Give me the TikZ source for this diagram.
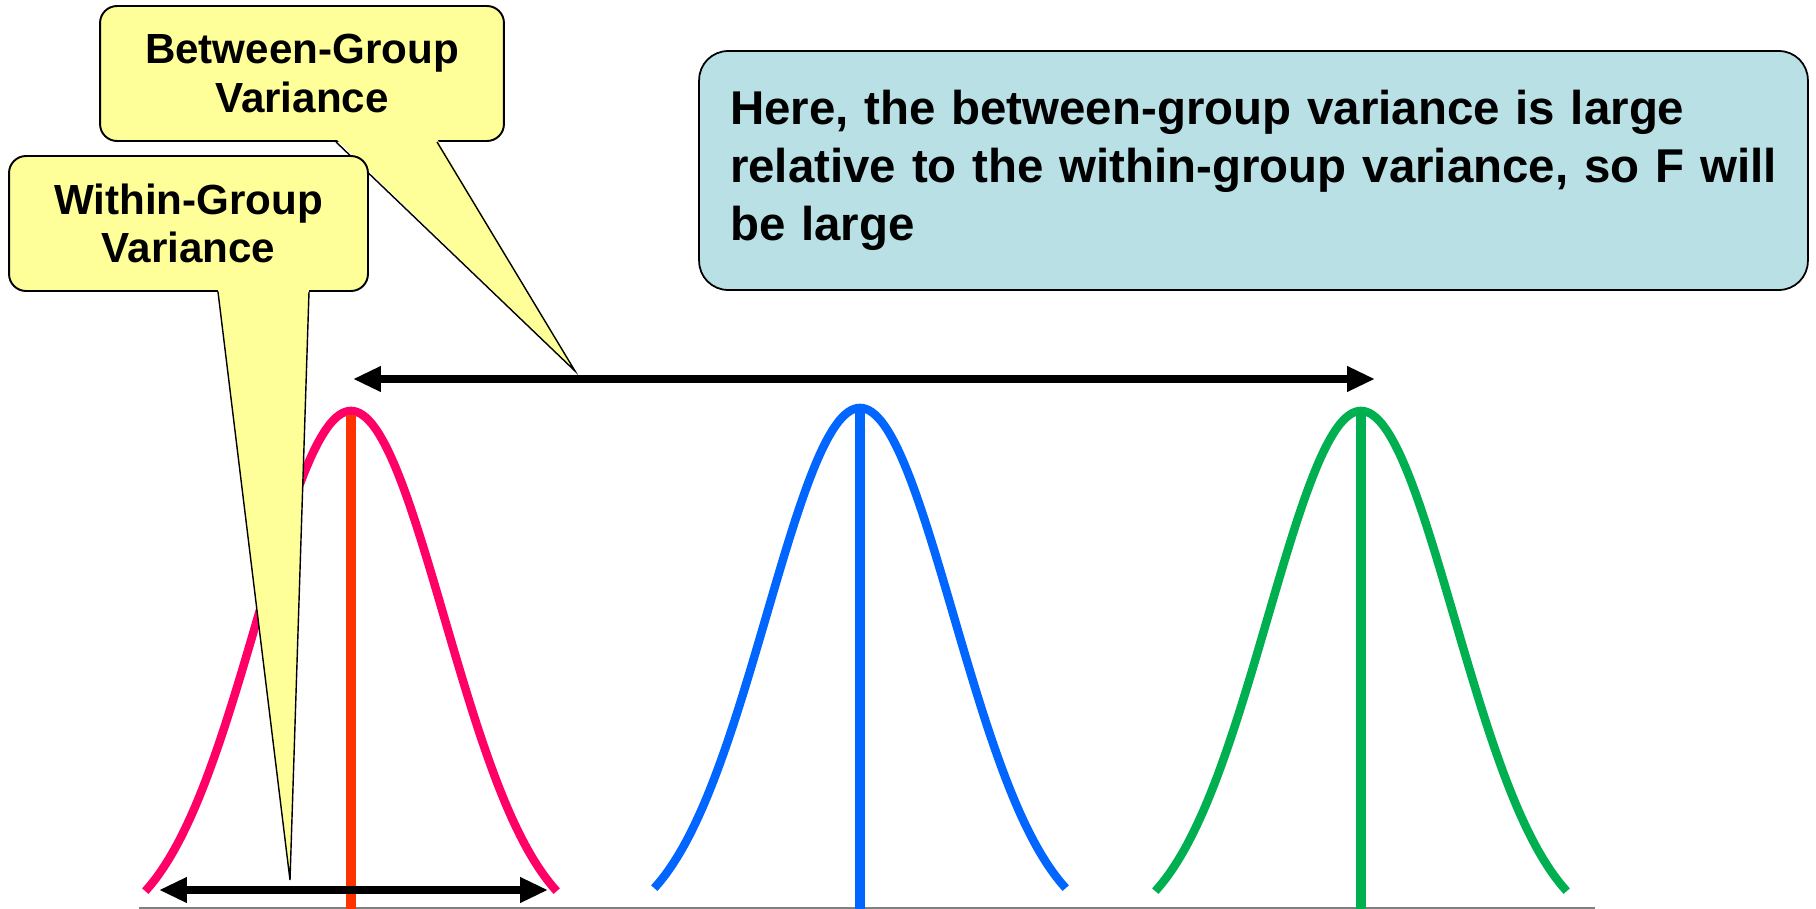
\documentclass[tikz,border=0pt]{standalone}
\usepackage{fontspec}
\setmainfont{Liberation Sans}
\usetikzlibrary{arrows.meta,positioning,calc}
\definecolor{calloutyellow}{HTML}{FFFF99}
\definecolor{noteteal}{HTML}{B9E0E4}
\definecolor{grppink}{HTML}{FF0066}
\definecolor{meanred}{HTML}{FF3300}
\definecolor{grpblue}{HTML}{0066FF}
\definecolor{grpgreen}{HTML}{00B050}

\begin{document}
\begin{tikzpicture}[
	x=0.02cm, y=-0.02cm,
	callout/.style={draw, fill=calloutyellow, rounded corners=0.34cm, align=center, line width=1.1pt, minimum height=2.7cm, inner sep=0pt, font=\fontsize{24}{27.6}\selectfont\bfseries},
	note/.style={draw, fill=noteteal, rounded corners=0.58cm, align=left, line width=1pt, minimum height=4.78cm, text width=20.94cm, inner xsep=0.62cm, font=\fontsize{27}{33}\selectfont\bfseries},
	pointer/.style={line width=0.8pt},
	arrow/.style={{Triangle[length=0.56cm,width=0.48cm]}-{Triangle[length=0.56cm,width=0.48cm]}, line width=4pt},
	curve/.style={line width=4.8pt, smooth, samples=70},
	mean/.style={line width=5.4pt}
	]
	
	\path[fill=white, use as bounding box] (0,0) rectangle (1816,909);
	
	% axis
	\draw[line width=1.1pt, gray] (139,908) -- (1595,908);
	
	% group distributions
	\draw[curve, grppink] plot[domain=-2.2:2.2] ({351+93.5*\x},{938-527*exp(-0.5*(\x)*(\x))});
	\draw[curve, grpblue] plot[domain=-2.2:2.2] ({860+93.5*\x},{935-527*exp(-0.5*(\x)*(\x))});
	\draw[curve, grpgreen] plot[domain=-2.2:2.2] ({1361+93.5*\x},{938-527*exp(-0.5*(\x)*(\x))});
	
	% group means
	\coordinate (m1) at (351,415);
	\coordinate (m2) at (860,408);
	\coordinate (m3) at (1361,411);
	\draw[mean, meanred] (m1) -- (m1 |- 0,909);
	\draw[mean, grpblue] (m2) -- (m2 |- 0,909);
	\draw[mean, grpgreen] (m3) -- (m3 |- 0,909);
	
	% spreads
	\coordinate (bl) at (353,379);
	\coordinate (br) at (1375,379);
	\coordinate (wl) at (159,890);
	\coordinate (wr) at (548,890);
	\draw[arrow] (bl) -- (br);
	\draw[arrow] (wl) -- (wr);
	
	\node[note] (N) at (1253.5,170.5) {Here, the between-group variance is large\\relative to the within-group variance, so F will\\be large};
	
	% callouts
	\coordinate (btip) at (575,371);
	\coordinate (wtip) at (290,880);
	
	\node[callout, minimum width=8.08cm] (B) at (302,73.5) {Between-Group\\Variance};
	\fill[calloutyellow] ($(B.south)+(34,-3)$) -- (btip) -- ($(B.south)+(135,-3)$) -- cycle;
	\draw[pointer] ($(B.south)+(34,0)$) -- (btip) -- ($(B.south)+(135,0)$);
	
	\node[callout, minimum width=7.18cm] (W) at (188.5,223.5) {Within-Group\\Variance};
	\fill[calloutyellow] ($(W.south)+(29.5,-3)$) -- (wtip) -- ($(W.south)+(120.5,-3)$) -- cycle;
	\draw[pointer] ($(W.south)+(29.5,0)$) -- (wtip) -- ($(W.south)+(120.5,0)$);
	
\end{tikzpicture}
\end{document}
